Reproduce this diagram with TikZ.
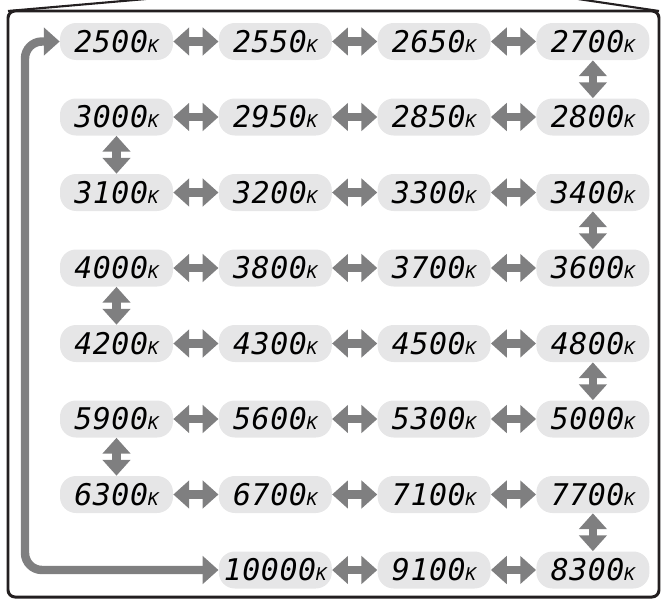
\documentclass[tikz,border=0pt]{standalone}
\usepackage{fontspec}
\usetikzlibrary{arrows.meta}
\newfontfamily\lcdfont{DejaVu Sans Mono}[LetterSpace=2]
\definecolor{ink}{HTML}{231F20}
\definecolor{pillfill}{HTML}{E6E6E7}
\definecolor{arrgray}{HTML}{7F7F80}
\newcommand{\kel}[1]{{\lcdfont\itshape\fontsize{17}{18}\selectfont #1{\fontsize{10}{10}\selectfont K}}}
\tikzset{
  temp/.style={fill=pillfill,rounded corners=0.32cm,minimum width=2.26cm,minimum height=0.74cm,
    inner sep=0pt,text=black},
  arr/.style={{Triangle[width=15.5pt,length=9pt]}-{Triangle[width=15.5pt,length=9pt]},
    line width=4.8pt,draw=arrgray},
  frame/.style={draw=ink,line width=1.7pt},
}

\begin{document}
\begin{tikzpicture}[x=0.02cm,y=-0.02cm]
  \useasboundingbox (0,0) rectangle (663,599);
  \draw[frame,rounded corners=0.14cm] (8,11) rectangle (659,597);
  \draw[frame,line width=1.2pt] (8,11) -- (146,-1);
  \draw[frame,line width=1.2pt] (578,-1) -- (659,11);
  % temperatures, value/column/row
  \foreach \t/\c/\r in {2500/0/0,2550/1/0,2650/2/0,2700/3/0,
      3000/0/1,2950/1/1,2850/2/1,2800/3/1,
      3100/0/2,3200/1/2,3300/2/2,3400/3/2,
      4000/0/3,3800/1/3,3700/2/3,3600/3/3,
      4200/0/4,4300/1/4,4500/2/4,4800/3/4,
      5900/0/5,5600/1/5,5300/2/5,5000/3/5,
      6300/0/6,6700/1/6,7100/2/6,7700/3/6,
      10000/1/7,9100/2/7,8300/3/7}{
    \node[temp] (t\t) at ({116.5+158.8*\c},{41.5+75.5*\r}) {\kel{\t}};
  }
  \foreach \a/\b in {2500/2550,2550/2650,2650/2700,3000/2950,2950/2850,2850/2800,
      3100/3200,3200/3300,3300/3400,4000/3800,3800/3700,3700/3600,
      4200/4300,4300/4500,4500/4800,5900/5600,5600/5300,5300/5000,
      6300/6700,6700/7100,7100/7700,10000/9100,9100/8300}
    \draw[arr] (t\a) -- (t\b);
  \foreach \a/\b in {2700/2800,3000/3100,3400/3600,4000/4200,4800/5000,5900/6300,7700/8300}
    \draw[arr] (t\a) -- (t\b);
  \coordinate (loop) at (25,300);
  \draw[arr,rounded corners=0.34cm] (t10000) -| (loop) |- (t2500);
\end{tikzpicture}
\end{document}
